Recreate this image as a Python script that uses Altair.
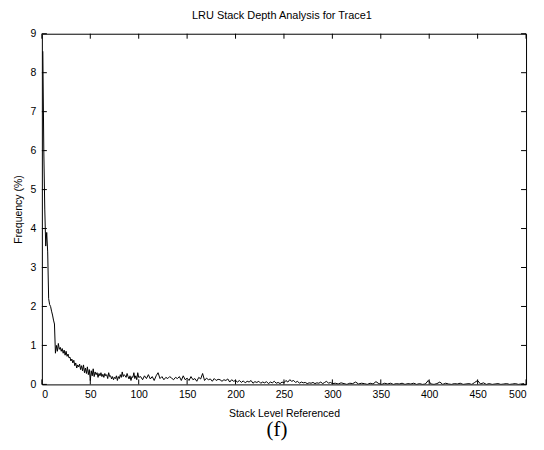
import altair as alt
import pandas as pd

# Stack levels and frequencies (%)
levels_a = list(range(1, 101))
freq_a = [8.55, 6.0, 4.5, 3.55, 3.9, 3.4, 2.2, 2.05, 2.0, 1.88,
          1.78, 1.65, 1.55, 0.8, 1.0, 0.85, 1.05, 0.9, 0.95, 0.85,
          0.92, 0.8, 0.88, 0.75, 0.85, 0.72, 0.78, 0.68, 0.7, 0.6,
          0.65, 0.55, 0.62, 0.48, 0.55, 0.42, 0.5, 0.45, 0.52, 0.38,
          0.48, 0.35, 0.5, 0.3, 0.42, 0.28, 0.45, 0.25, 0.38, 0.1,
          0.35, 0.22, 0.4, 0.2, 0.32, 0.25, 0.3, 0.18, 0.28, 0.22,
          0.3, 0.2, 0.26, 0.18, 0.28, 0.22, 0.25, 0.15, 0.3, 0.2,
          0.22, 0.14, 0.2, 0.12, 0.18, 0.15, 0.22, 0.1, 0.2, 0.15,
          0.25, 0.18, 0.32, 0.2, 0.25, 0.22, 0.18, 0.28, 0.2, 0.14,
          0.22, 0.1, 0.2, 0.18, 0.3, 0.15, 0.22, 0.12, 0.3, 0.18]
levels_b = list(range(102, 301, 2))
freq_b = [0.2, 0.12, 0.22, 0.15, 0.25, 0.14, 0.2, 0.1, 0.22, 0.3,
          0.15, 0.2, 0.12, 0.18, 0.15, 0.2, 0.16, 0.12, 0.18, 0.15,
          0.2, 0.1, 0.22, 0.12, 0.16, 0.1, 0.2, 0.12, 0.15, 0.08,
          0.18, 0.14, 0.28, 0.1, 0.16, 0.12, 0.14, 0.08, 0.15, 0.1,
          0.13, 0.12, 0.08, 0.12, 0.1, 0.14, 0.06, 0.12, 0.08, 0.1,
          0.06, 0.1, 0.05, 0.09, 0.04, 0.08, 0.06, 0.1, 0.03, 0.07,
          0.05, 0.08, 0.03, 0.06, 0.04, 0.07, 0.02, 0.06, 0.04, 0.08,
          0.03, 0.05, 0.02, 0.06, 0.04, 0.1, 0.06, 0.12, 0.08, 0.1,
          0.05, 0.08, 0.03, 0.06, 0.04, 0.05, 0.02, 0.04, 0.03, 0.05,
          0.02, 0.04, 0.03, 0.06, 0.02, 0.05, 0.08, 0.03, 0.05, 0.02]
levels_c = list(range(303, 501, 3))
freq_c = [0.03, 0.01, 0.04, 0.02, 0.0, 0.03, 0.02, 0.06, 0.01, 0.03,
          0.02, 0.0, 0.03, 0.01, 0.07, 0.02, 0.0, 0.03, 0.01, 0.03,
          0.0, 0.02, 0.01, 0.03, 0.0, 0.02, 0.01, 0.03, 0.0, 0.02,
          0.0, 0.01, 0.1, 0.01, 0.0, 0.02, 0.06, 0.0, 0.03, 0.01,
          0.0, 0.02, 0.01, 0.03, 0.0, 0.01, 0.02, 0.0, 0.05, 0.1,
          0.01, 0.04, 0.0, 0.02, 0.0, 0.01, 0.02, 0.0, 0.01, 0.02,
          0.0, 0.01, 0.02, 0.0, 0.01, 0.02]

x_ticks = [0, 50, 100, 150, 200, 250, 300, 350, 400, 450, 500]
y_ticks = [0, 1, 2, 3, 4, 5, 6, 7, 8, 9]
title_text = ["LRU Stack Depth Analysis for Trace1"]
caption_text = ["(f)"]

W, H = 486, 352
FONT = "Liberation Sans"

df = pd.DataFrame({"level": levels_a + levels_b + levels_c,
                   "freq": freq_a + freq_b + freq_c})
xt = pd.DataFrame({"level": x_ticks})
yt = pd.DataFrame({"freq": y_ticks})

xs = alt.Scale(domain=[0, 500], nice=False, zero=False)
ys = alt.Scale(domain=[0, 9], nice=False, zero=False)
x_axis = alt.Axis(title="Stack Level Referenced", values=x_ticks,
                  labelPadding=5, titlePadding=9)
y_axis = alt.Axis(title="Frequency (%)", values=y_ticks,
                  labelPadding=6, titlePadding=7)
X = alt.X("level:Q", scale=xs, axis=x_axis)
Y = alt.Y("freq:Q", scale=ys, axis=y_axis)

line = alt.Chart(df).mark_line(color="black", strokeWidth=1, clip=True).encode(x=X, y=Y)

tick_bottom = alt.Chart(xt).mark_rule(color="black", strokeWidth=1).encode(
    x=X, y=alt.value(H), y2=alt.value(H - 5))
tick_top = alt.Chart(xt).mark_rule(color="black", strokeWidth=1).encode(
    x=X, y=alt.value(0), y2=alt.value(5))
tick_left = alt.Chart(yt).mark_rule(color="black", strokeWidth=1).encode(
    y=Y, x=alt.value(0), x2=alt.value(5))
tick_right = alt.Chart(yt).mark_rule(color="black", strokeWidth=1).encode(
    y=Y, x=alt.value(W), x2=alt.value(W - 5))

title = alt.Chart(pd.DataFrame({"t": title_text})).mark_text(
    font=FONT, fontSize=11, color="black", baseline="middle",
    align="center").encode(text="t:N", x=alt.value(241), y=alt.value(-18))

caption = alt.Chart(pd.DataFrame({"t": caption_text})).mark_text(
    font="Liberation Serif", fontSize=21, color="black", baseline="middle",
    align="center").encode(text="t:N", x=alt.value(236), y=alt.value(398))

chart = alt.layer(line, tick_bottom, tick_top, tick_left, tick_right,
                  title, caption).properties(
    width=W, height=H,
    autosize=alt.AutoSizeParams(type="none"),
    padding={"left": 34, "top": 25, "right": 10, "bottom": 57},
).configure_view(stroke="black", strokeWidth=1).configure_axis(
    domain=False, grid=False, ticks=False, labelFont=FONT, labelFontSize=10.5,
    labelColor="black", titleFont=FONT, titleFontSize=10.5,
    titleFontWeight="normal", titleColor="black")

chart.save("out.html", embed_options={"renderer": "svg", "actions": False})
